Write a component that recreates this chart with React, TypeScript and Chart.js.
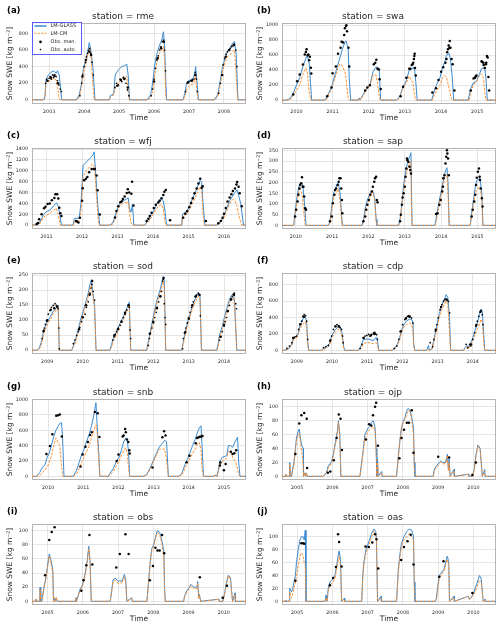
import React, { useEffect, useRef } from "react";
import { Chart, registerables } from "chart.js";
Chart.register(...registerables);

type P = [number, number][];

const FONT = '"DejaVu Sans", sans-serif';
const BLUE = "#3a8ad0";
const ORANGE = "#ff8c2a";
const TXT = "#262626";

// ---------------- (a) rme ----------------
const rmeYears = [2003, 2004, 2005, 2006, 2007, 2008];
const rmeTicks = [0, 200, 400, 600, 800];
const rmeGlass: P = [
  [2002.5, 0], [2002.85, 0], [2002.88, 40], [2002.91, 240], [2002.98, 300], [2003.05, 330], [2003.13, 350], [2003.2, 320], [2003.24, 350], [2003.29, 300], [2003.33, 120], [2003.36, 0],
  [2003.78, 0], [2003.86, 60], [2003.93, 200], [2003.98, 380], [2004.03, 450], [2004.1, 580], [2004.15, 690], [2004.19, 600], [2004.25, 400], [2004.31, 0],
  [2004.72, 0], [2004.75, 50], [2004.8, 60], [2004.85, 80], [2004.89, 300], [2004.98, 360], [2005.08, 400], [2005.15, 410], [2005.22, 430], [2005.26, 300], [2005.3, 0],
  [2005.8, 0], [2005.9, 60], [2005.96, 200], [2006.02, 420], [2006.08, 550], [2006.15, 650], [2006.22, 720], [2006.27, 820], [2006.3, 650], [2006.33, 300], [2006.36, 0],
  [2006.83, 0], [2006.88, 80], [2006.93, 200], [2006.98, 230], [2007.05, 240], [2007.12, 260], [2007.17, 330], [2007.19, 400], [2007.22, 250], [2007.27, 0],
  [2007.72, 0], [2007.82, 60], [2007.9, 250], [2007.96, 400], [2008.03, 500], [2008.1, 580], [2008.17, 620], [2008.24, 680], [2008.3, 700], [2008.35, 550], [2008.4, 0], [2008.65, 0],
];
const rmeCm: P = [
  [2002.5, 0], [2002.85, 0], [2002.88, 20], [2002.91, 200], [2002.98, 220], [2003.05, 240], [2003.13, 260], [2003.2, 240], [2003.24, 150], [2003.29, 20], [2003.31, 0],
  [2003.78, 0], [2003.86, 30], [2003.93, 150], [2003.98, 330], [2004.03, 400], [2004.1, 530], [2004.15, 620], [2004.19, 560], [2004.25, 200], [2004.29, 0],
  [2004.72, 0], [2004.75, 30], [2004.8, 50], [2004.85, 60], [2004.89, 150], [2004.98, 200], [2005.08, 250], [2005.15, 270], [2005.22, 280], [2005.26, 100], [2005.29, 0],
  [2005.8, 0], [2005.9, 20], [2005.96, 100], [2006.02, 300], [2006.08, 450], [2006.15, 560], [2006.22, 600], [2006.27, 640], [2006.3, 500], [2006.33, 100], [2006.35, 0],
  [2006.83, 0], [2006.88, 40], [2006.93, 120], [2006.98, 160], [2007.05, 180], [2007.12, 190], [2007.17, 250], [2007.19, 310], [2007.22, 120], [2007.26, 0],
  [2007.72, 0], [2007.82, 30], [2007.9, 180], [2007.96, 350], [2008.03, 450], [2008.1, 520], [2008.17, 540], [2008.24, 580], [2008.3, 600], [2008.35, 300], [2008.39, 0], [2008.65, 0],
];
const rmeAuto: P = [
  [2002.9, 200], [2002.93, 250], [2002.96, 230], [2003.0, 260], [2003.03, 280], [2003.06, 250], [2003.1, 300], [2003.13, 270], [2003.16, 300], [2003.2, 280], [2003.24, 230], [2003.28, 180], [2003.32, 130], [2003.35, 100],
  [2003.88, 50], [2003.93, 200], [2003.96, 300], [2004.0, 400], [2004.04, 450], [2004.07, 520], [2004.1, 560], [2004.13, 600], [2004.16, 620], [2004.19, 560], [2004.22, 450], [2004.26, 300],
  [2004.88, 150], [2004.93, 200], [2004.98, 180], [2005.03, 250], [2005.08, 220], [2005.12, 270], [2005.16, 260], [2005.2, 200], [2005.24, 120], [2005.28, 50],
  [2005.92, 50], [2005.96, 130], [2006.0, 250], [2006.04, 380], [2006.08, 480], [2006.12, 530], [2006.16, 600], [2006.2, 640], [2006.24, 700], [2006.27, 720], [2006.3, 600], [2006.33, 350],
  [2006.9, 100], [2006.95, 200], [2007.0, 220], [2007.05, 230], [2007.1, 240], [2007.14, 250], [2007.18, 330], [2007.21, 250], [2007.24, 100],
  [2007.85, 80], [2007.9, 200], [2007.94, 300], [2007.98, 420], [2008.02, 500], [2008.06, 550], [2008.1, 580], [2008.14, 600], [2008.18, 620], [2008.22, 640], [2008.26, 650], [2008.3, 670], [2008.34, 600], [2008.37, 400],
];
const rmeMan: P = [
  [2002.95, 230], [2003.05, 270], [2003.15, 290], [2003.25, 200], [2003.95, 280], [2004.05, 480], [2004.15, 580], [2004.2, 540],
  [2004.95, 170], [2005.05, 240], [2005.15, 250], [2005.25, 150], [2006.0, 220], [2006.1, 500], [2006.2, 620], [2006.28, 700],
  [2006.97, 210], [2007.08, 230], [2007.18, 300], [2007.95, 300], [2008.05, 520], [2008.15, 600], [2008.28, 660],
];

// ---------------- (b) swa ----------------
const swaYears = [2010, 2011, 2012, 2013, 2014, 2015];
const swaTicks = [0, 200, 400, 600, 800, 1000];
const swaGlass: P = [
  [2009.6, 0], [2009.72, 0], [2009.82, 20], [2009.91, 90], [2010.0, 200], [2010.09, 300], [2010.18, 450], [2010.26, 560], [2010.3, 590], [2010.35, 500], [2010.4, 150], [2010.42, 0],
  [2010.78, 0], [2010.85, 50], [2010.97, 170], [2011.09, 380], [2011.15, 480], [2011.2, 560], [2011.27, 680], [2011.34, 770], [2011.37, 790], [2011.4, 740], [2011.43, 700], [2011.46, 300], [2011.5, 0],
  [2011.71, 0], [2011.74, 30], [2011.76, 0], [2011.85, 80], [2011.94, 150], [2012.03, 200], [2012.12, 380], [2012.2, 440], [2012.25, 440], [2012.29, 380], [2012.33, 0],
  [2012.77, 0], [2012.86, 50], [2012.95, 180], [2013.04, 260], [2013.12, 400], [2013.18, 410], [2013.23, 440], [2013.27, 400], [2013.3, 250], [2013.34, 0],
  [2013.74, 0], [2013.8, 100], [2013.87, 200], [2013.97, 300], [2014.04, 430], [2014.11, 520], [2014.15, 600], [2014.23, 620], [2014.27, 500], [2014.31, 300], [2014.35, 0],
  [2014.75, 0], [2014.82, 150], [2014.89, 230], [2014.98, 250], [2015.06, 340], [2015.12, 420], [2015.17, 430], [2015.21, 420], [2015.24, 300], [2015.28, 0], [2015.55, 0],
];
const swaCm: P = [
  [2009.6, 0], [2009.82, 0], [2009.91, 60], [2010.0, 130], [2010.09, 200], [2010.18, 350], [2010.26, 430], [2010.3, 380], [2010.35, 120], [2010.4, 0],
  [2010.8, 0], [2010.85, 20], [2010.97, 150], [2011.09, 330], [2011.15, 440], [2011.2, 480], [2011.27, 460], [2011.34, 380], [2011.37, 300], [2011.4, 150], [2011.43, 30], [2011.46, 0],
  [2011.71, 0], [2011.74, 20], [2011.76, 0], [2011.85, 60], [2011.94, 150], [2012.03, 190], [2012.12, 330], [2012.2, 340], [2012.25, 200], [2012.29, 50], [2012.32, 0],
  [2012.8, 0], [2012.86, 40], [2012.95, 160], [2013.04, 230], [2013.12, 320], [2013.18, 260], [2013.23, 230], [2013.27, 50], [2013.3, 0],
  [2013.76, 0], [2013.8, 50], [2013.87, 120], [2013.97, 200], [2014.04, 300], [2014.11, 330], [2014.15, 300], [2014.23, 150], [2014.27, 50], [2014.31, 0],
  [2014.78, 0], [2014.82, 100], [2014.89, 200], [2014.98, 260], [2015.06, 320], [2015.12, 350], [2015.17, 300], [2015.21, 100], [2015.24, 0], [2015.55, 0],
];
const swaAuto: P = [];
const swaMan: P = [
  [2009.91, 75], [2010.02, 253], [2010.09, 342], [2010.18, 475], [2010.23, 608], [2010.26, 644], [2010.28, 680], [2010.31, 600], [2010.33, 608], [2010.35, 533], [2010.37, 578], [2010.4, 431], [2010.41, 355],
  [2010.85, 50], [2010.97, 170], [2011.0, 360], [2011.09, 450], [2011.15, 620], [2011.22, 700], [2011.25, 780], [2011.29, 770], [2011.32, 870], [2011.34, 960], [2011.37, 990], [2011.38, 1000], [2011.4, 920], [2011.44, 700], [2011.46, 450],
  [2011.9, 130], [2011.96, 170], [2012.03, 200], [2012.14, 480], [2012.18, 500], [2012.21, 540], [2012.24, 420], [2012.28, 410], [2012.3, 280], [2012.33, 150],
  [2012.88, 50], [2012.95, 180], [2013.04, 300], [2013.12, 420], [2013.15, 420], [2013.19, 470], [2013.21, 480], [2013.23, 500], [2013.25, 550], [2013.26, 590], [2013.27, 620], [2013.28, 430], [2013.3, 330],
  [2013.76, 100], [2013.86, 160], [2013.93, 270], [2014.0, 380], [2014.06, 440], [2014.12, 500], [2014.15, 550], [2014.17, 640], [2014.19, 680], [2014.21, 730], [2014.23, 700], [2014.24, 790], [2014.26, 700], [2014.29, 550], [2014.32, 480], [2014.37, 130],
  [2014.82, 130], [2014.9, 290], [2014.94, 300], [2014.96, 320], [2014.98, 330], [2015.12, 520], [2015.14, 510], [2015.17, 500], [2015.18, 470], [2015.21, 430], [2015.24, 480], [2015.25, 500], [2015.27, 590], [2015.29, 570], [2015.31, 310], [2015.33, 130],
];

// ---------------- (c) wfj ----------------
const wfjYears = [2011, 2012, 2013, 2014, 2015, 2016];
const wfjTicks = [0, 200, 400, 600, 800, 1000, 1200, 1400];
const wfjGlass: P = [
  [2010.58, 0], [2010.75, 10], [2010.8, 40], [2010.86, 120], [2010.92, 200], [2011.0, 250], [2011.1, 280], [2011.2, 360], [2011.28, 410], [2011.33, 350], [2011.37, 200], [2011.42, 0],
  [2011.75, 0], [2011.78, 120], [2011.86, 130], [2011.92, 130], [2011.97, 400], [2012.03, 1100], [2012.12, 1160], [2012.22, 1230], [2012.3, 1280], [2012.34, 1350], [2012.38, 1000], [2012.44, 400], [2012.5, 0],
  [2012.77, 0], [2012.85, 30], [2012.9, 100], [2012.97, 250], [2013.06, 400], [2013.15, 440], [2013.24, 480], [2013.3, 500], [2013.34, 300], [2013.38, 240], [2013.42, 380], [2013.46, 0],
  [2013.77, 0], [2013.87, 100], [2013.96, 200], [2014.05, 300], [2014.15, 450], [2014.24, 480], [2014.29, 450], [2014.34, 250], [2014.38, 0],
  [2014.81, 0], [2014.83, 200], [2014.94, 250], [2015.03, 350], [2015.12, 500], [2015.22, 650], [2015.32, 820], [2015.37, 800], [2015.41, 400], [2015.46, 0],
  [2015.79, 0], [2015.88, 50], [2015.98, 150], [2016.07, 300], [2016.16, 450], [2016.26, 550], [2016.31, 600], [2016.37, 650], [2016.41, 550], [2016.47, 400], [2016.55, 0], [2016.65, 0],
];
const wfjCm: P = [
  [2010.58, 0], [2010.75, 5], [2010.8, 20], [2010.86, 80], [2010.92, 150], [2011.0, 180], [2011.1, 220], [2011.2, 280], [2011.28, 310], [2011.33, 200], [2011.37, 40], [2011.4, 0],
  [2011.75, 0], [2011.78, 60], [2011.86, 60], [2011.92, 80], [2011.97, 250], [2012.03, 900], [2012.12, 1000], [2012.22, 1080], [2012.3, 1120], [2012.34, 1100], [2012.38, 800], [2012.44, 200], [2012.48, 0],
  [2012.77, 0], [2012.85, 10], [2012.9, 60], [2012.97, 200], [2013.06, 350], [2013.15, 400], [2013.24, 420], [2013.3, 430], [2013.34, 200], [2013.38, 50], [2013.42, 0],
  [2013.77, 0], [2013.87, 60], [2013.96, 150], [2014.05, 250], [2014.15, 350], [2014.24, 380], [2014.29, 300], [2014.34, 50], [2014.37, 0],
  [2014.81, 0], [2014.83, 150], [2014.94, 200], [2015.03, 300], [2015.12, 420], [2015.22, 550], [2015.32, 700], [2015.37, 650], [2015.41, 200], [2015.45, 0],
  [2015.79, 0], [2015.88, 30], [2015.98, 120], [2016.07, 250], [2016.16, 400], [2016.26, 480], [2016.31, 450], [2016.37, 350], [2016.41, 200], [2016.45, 100], [2016.5, 0], [2016.65, 0],
];
const wfjAuto: P = [];
const wfjMan: P = [
  [2010.72, 20], [2010.76, 40], [2010.79, 110], [2010.86, 200], [2010.93, 310], [2010.97, 340], [2011.03, 390], [2011.09, 400], [2011.15, 460], [2011.22, 500], [2011.25, 570], [2011.3, 570], [2011.33, 490], [2011.36, 320], [2011.39, 220], [2011.42, 170],
  [2011.83, 78], [2011.86, 66], [2011.9, 48], [2011.94, 137], [2012.0, 450], [2012.02, 680], [2012.06, 825], [2012.11, 855], [2012.15, 885], [2012.2, 975], [2012.27, 1035], [2012.33, 1035], [2012.36, 1035], [2012.41, 915], [2012.44, 645], [2012.5, 197],
  [2012.93, 140], [2012.97, 260], [2013.02, 350], [2013.08, 420], [2013.12, 440], [2013.15, 480], [2013.2, 530], [2013.26, 590], [2013.29, 660], [2013.33, 600], [2013.39, 580], [2013.41, 800], [2013.45, 360],
  [2013.82, 78], [2013.87, 120], [2013.91, 167], [2013.96, 227], [2014.02, 317], [2014.08, 377], [2014.15, 419], [2014.19, 449], [2014.24, 496], [2014.29, 556], [2014.32, 616], [2014.36, 646], [2014.48, 90],
  [2014.85, 138], [2014.91, 209], [2014.96, 257], [2015.02, 329], [2015.07, 407], [2015.12, 496], [2015.17, 586], [2015.23, 676], [2015.28, 765], [2015.33, 855], [2015.37, 688], [2015.4, 718], [2015.49, 78],
  [2015.84, 36], [2015.91, 78], [2015.96, 138], [2016.0, 209], [2016.05, 317], [2016.1, 437], [2016.16, 508], [2016.21, 568], [2016.25, 628], [2016.31, 676], [2016.35, 748], [2016.37, 795], [2016.41, 706], [2016.44, 586], [2016.5, 347],
];

// ---------------- (d) sap ----------------
const sapYears = [2010, 2011, 2012, 2013, 2014, 2015];
const sapTicks = [0, 50, 100, 150, 200, 250, 300, 350];
const sapGlass: P = [
  [2009.6, 0], [2009.94, 0], [2009.98, 60], [2010.03, 130], [2010.07, 170], [2010.12, 200], [2010.19, 190], [2010.24, 100], [2010.28, 0],
  [2010.9, 0], [2010.94, 20], [2011.0, 100], [2011.04, 150], [2011.11, 180], [2011.17, 200], [2011.22, 150], [2011.26, 50], [2011.28, 0],
  [2011.82, 0], [2011.86, 20], [2011.91, 80], [2011.97, 120], [2012.05, 150], [2012.11, 165], [2012.17, 130], [2012.21, 30], [2012.23, 0],
  [2012.83, 0], [2012.87, 30], [2012.92, 100], [2012.96, 180], [2013.02, 250], [2013.07, 290], [2013.13, 320], [2013.17, 340], [2013.18, 200], [2013.2, 0],
  [2013.83, 0], [2013.88, 50], [2013.93, 100], [2013.99, 150], [2014.05, 200], [2014.11, 250], [2014.16, 270], [2014.19, 200], [2014.22, 0],
  [2014.8, 0], [2014.84, 60], [2014.89, 120], [2014.94, 180], [2014.98, 210], [2015.07, 220], [2015.12, 150], [2015.15, 0], [2015.55, 0],
];
const sapCm: P = [
  [2009.6, 0], [2009.94, 0], [2009.98, 40], [2010.03, 110], [2010.1, 170], [2010.17, 150], [2010.21, 80], [2010.26, 0],
  [2010.9, 0], [2010.94, 10], [2011.0, 80], [2011.04, 130], [2011.11, 150], [2011.17, 170], [2011.22, 110], [2011.26, 20], [2011.28, 0],
  [2011.82, 0], [2011.86, 10], [2011.91, 60], [2011.97, 100], [2012.05, 140], [2012.11, 160], [2012.17, 120], [2012.21, 20], [2012.23, 0],
  [2012.83, 0], [2012.87, 20], [2012.92, 90], [2012.96, 160], [2013.02, 220], [2013.07, 260], [2013.13, 290], [2013.17, 300], [2013.18, 100], [2013.2, 0],
  [2013.83, 0], [2013.88, 30], [2013.93, 80], [2013.99, 130], [2014.05, 180], [2014.11, 230], [2014.16, 240], [2014.19, 150], [2014.22, 0],
  [2014.8, 0], [2014.84, 40], [2014.89, 100], [2014.94, 150], [2014.98, 170], [2015.07, 180], [2015.12, 120], [2015.15, 0], [2015.55, 0],
];
const sapAuto: P = [];
const sapMan: P = [
  [2009.98, 42], [2010.01, 73], [2010.05, 112], [2010.07, 143], [2010.1, 173], [2010.12, 189], [2010.15, 197], [2010.17, 225], [2010.19, 181], [2010.21, 181], [2010.23, 135], [2010.26, 80], [2010.28, 73],
  [2010.94, 19], [2010.99, 42], [2011.02, 104], [2011.06, 143], [2011.08, 166], [2011.11, 173], [2011.15, 189], [2011.18, 204], [2011.2, 220], [2011.23, 220], [2011.25, 173], [2011.27, 119], [2011.28, 57],
  [2011.86, 19], [2011.91, 42], [2011.94, 73], [2011.97, 96], [2012.01, 119], [2012.05, 143], [2012.09, 158], [2012.12, 181], [2012.16, 204], [2012.18, 220], [2012.21, 228], [2012.23, 119], [2012.25, 108],
  [2012.87, 19], [2012.89, 50], [2012.92, 96], [2012.94, 130], [2012.97, 150], [2013.0, 181], [2013.02, 228], [2013.04, 266], [2013.06, 313], [2013.07, 305], [2013.1, 297], [2013.13, 274], [2013.15, 259], [2013.17, 243],
  [2013.86, 53], [2013.9, 57], [2013.95, 96], [2013.99, 119], [2014.03, 158], [2014.05, 181], [2014.06, 220], [2014.09, 235], [2014.12, 290], [2014.14, 321], [2014.16, 352], [2014.17, 336], [2014.19, 313], [2014.21, 235],
  [2014.84, 42], [2014.87, 73], [2014.91, 112], [2014.94, 143], [2014.96, 189], [2014.98, 223], [2015.01, 251], [2015.04, 266], [2015.06, 228], [2015.07, 212], [2015.09, 173], [2015.12, 127], [2015.14, 88],
];

// ---------------- (e) sod ----------------
const sodYears = [2009, 2010, 2011, 2012, 2013, 2014];
const sodTicks = [0, 50, 100, 150, 200, 250];
const sodGlass: P = [
  [2008.57, 0], [2008.7, 0], [2008.77, 5], [2008.84, 30], [2008.89, 60], [2008.98, 90], [2009.08, 110], [2009.17, 130], [2009.26, 140], [2009.31, 150], [2009.34, 0],
  [2009.69, 0], [2009.74, 15], [2009.81, 40], [2009.88, 70], [2009.94, 100], [2010.02, 130], [2010.09, 160], [2010.16, 190], [2010.21, 220], [2010.25, 235], [2010.28, 200], [2010.34, 150], [2010.38, 0],
  [2010.77, 0], [2010.82, 20], [2010.87, 40], [2010.96, 60], [2011.06, 90], [2011.15, 110], [2011.25, 140], [2011.29, 150], [2011.32, 160], [2011.36, 0],
  [2011.81, 0], [2011.86, 30], [2011.91, 60], [2011.98, 100], [2012.05, 140], [2012.11, 170], [2012.19, 200], [2012.25, 230], [2012.28, 245], [2012.31, 230], [2012.35, 0],
  [2012.8, 0], [2012.85, 30], [2012.9, 60], [2012.96, 90], [2013.04, 120], [2013.11, 150], [2013.18, 170], [2013.25, 185], [2013.29, 190], [2013.32, 180], [2013.36, 0],
  [2013.79, 0], [2013.83, 20], [2013.87, 50], [2013.95, 80], [2014.01, 110], [2014.08, 140], [2014.15, 170], [2014.23, 185], [2014.27, 190], [2014.3, 150], [2014.36, 0], [2014.65, 0],
];
const sodCm: P = [
  [2008.57, 0], [2008.7, 0], [2008.77, 2], [2008.84, 20], [2008.89, 50], [2008.98, 80], [2009.08, 100], [2009.17, 120], [2009.26, 135], [2009.31, 142], [2009.34, 0],
  [2009.69, 0], [2009.74, 10], [2009.81, 30], [2009.88, 60], [2009.94, 90], [2010.02, 120], [2010.09, 150], [2010.16, 180], [2010.21, 205], [2010.25, 220], [2010.28, 190], [2010.34, 140], [2010.38, 0],
  [2010.77, 0], [2010.82, 10], [2010.87, 30], [2010.96, 50], [2011.06, 80], [2011.15, 100], [2011.25, 130], [2011.29, 140], [2011.32, 150], [2011.36, 0],
  [2011.81, 0], [2011.86, 20], [2011.91, 50], [2011.98, 90], [2012.05, 130], [2012.11, 160], [2012.19, 190], [2012.25, 215], [2012.28, 230], [2012.31, 210], [2012.35, 0],
  [2012.8, 0], [2012.85, 20], [2012.9, 50], [2012.96, 80], [2013.04, 110], [2013.11, 140], [2013.18, 160], [2013.25, 175], [2013.29, 180], [2013.32, 170], [2013.36, 0],
  [2013.79, 0], [2013.83, 10], [2013.87, 40], [2013.95, 70], [2014.01, 100], [2014.08, 130], [2014.15, 160], [2014.23, 178], [2014.27, 183], [2014.3, 140], [2014.36, 0], [2014.65, 0],
];
const sodAuto: P = [
  [2008.86, 39], [2008.89, 62], [2008.92, 74], [2008.95, 86], [2008.98, 97], [2009.03, 120], [2009.08, 132], [2009.12, 143], [2009.17, 149], [2009.22, 155], [2009.26, 149], [2009.31, 138], [2009.33, 74], [2009.34, 5],
  [2009.74, 22], [2009.78, 34], [2009.83, 49], [2009.88, 62], [2009.92, 76], [2009.97, 95], [2010.02, 109], [2010.07, 120], [2010.11, 143], [2010.16, 161], [2010.21, 190], [2010.24, 207], [2010.26, 219], [2010.3, 196], [2010.34, 167],
  [2010.85, 34], [2010.89, 45], [2010.92, 53], [2010.96, 62], [2011.01, 74], [2011.06, 83], [2011.1, 97], [2011.15, 109], [2011.2, 120], [2011.25, 134], [2011.29, 149], [2011.32, 143], [2011.34, 68], [2011.36, 39],
  [2011.86, 16], [2011.89, 39], [2011.92, 57], [2011.96, 74], [2012.0, 91], [2012.04, 109], [2012.08, 126], [2012.11, 143], [2012.15, 161], [2012.19, 178], [2012.23, 196], [2012.26, 230], [2012.28, 236], [2012.31, 155], [2012.33, 109], [2012.35, 86],
  [2012.83, 5], [2012.85, 39], [2012.88, 57], [2012.92, 74], [2012.96, 91], [2013.0, 109], [2013.04, 126], [2013.08, 143], [2013.13, 161], [2013.18, 178], [2013.22, 184], [2013.27, 190], [2013.31, 184], [2013.33, 115],
  [2013.87, 34], [2013.91, 45], [2013.95, 62], [2014.0, 80], [2014.03, 95], [2014.07, 109], [2014.11, 132], [2014.15, 149], [2014.19, 167], [2014.23, 178], [2014.26, 184], [2014.29, 190], [2014.33, 155], [2014.35, 138],
];
const sodMan: P = [
  [2008.9, 65], [2009.0, 100], [2009.1, 135], [2009.2, 140], [2009.28, 145], [2009.9, 70], [2010.0, 110], [2010.1, 150], [2010.2, 185], [2010.27, 230],
  [2010.9, 50], [2011.0, 70], [2011.1, 95], [2011.2, 125], [2011.3, 150], [2011.9, 55], [2012.0, 95], [2012.1, 140], [2012.2, 180], [2012.29, 240],
  [2012.9, 60], [2013.0, 105], [2013.1, 150], [2013.2, 180], [2013.3, 185], [2013.9, 45], [2014.0, 85], [2014.1, 130], [2014.2, 170], [2014.28, 185],
];

// ---------------- (f) cdp ----------------
const cdpYears = [2009, 2010, 2011, 2012, 2013, 2014];
const cdpTicks = [0, 200, 400, 600, 800];
const cdpGlass: P = [
  [2008.58, 0], [2008.62, 0], [2008.72, 10], [2008.79, 30], [2008.86, 80], [2008.91, 150], [2008.98, 170], [2009.05, 220], [2009.09, 300], [2009.14, 340], [2009.19, 400], [2009.24, 410], [2009.28, 350], [2009.31, 100], [2009.34, 0],
  [2009.71, 0], [2009.76, 20], [2009.85, 50], [2009.93, 80], [2009.97, 150], [2010.02, 200], [2010.09, 250], [2010.16, 280], [2010.21, 290], [2010.25, 270], [2010.29, 200], [2010.33, 50], [2010.36, 0],
  [2010.75, 0], [2010.8, 30], [2010.85, 80], [2010.89, 130], [2010.99, 140], [2011.08, 130], [2011.18, 120], [2011.23, 150], [2011.27, 160], [2011.3, 100], [2011.33, 0],
  [2011.7, 0], [2011.77, 20], [2011.84, 60], [2011.92, 150], [2011.98, 250], [2012.05, 320], [2012.12, 360], [2012.2, 380], [2012.26, 380], [2012.3, 340], [2012.32, 100], [2012.35, 0],
  [2012.69, 0], [2012.74, 60], [2012.77, 0], [2012.84, 20], [2012.88, 100], [2012.93, 200], [2012.98, 300], [2013.05, 450], [2013.12, 550], [2013.19, 620], [2013.24, 680], [2013.29, 650], [2013.34, 400], [2013.37, 0],
  [2013.73, 0], [2013.78, 30], [2013.83, 60], [2013.88, 40], [2013.93, 80], [2014.0, 150], [2014.07, 250], [2014.14, 350], [2014.2, 450], [2014.23, 500], [2014.27, 480], [2014.31, 200], [2014.34, 0], [2014.67, 0],
];
const cdpCm: P = [
  [2008.58, 0], [2008.62, 0], [2008.72, 5], [2008.79, 20], [2008.86, 60], [2008.91, 130], [2008.98, 150], [2009.05, 200], [2009.09, 260], [2009.14, 300], [2009.19, 330], [2009.24, 350], [2009.28, 280], [2009.31, 50], [2009.34, 0],
  [2009.71, 0], [2009.76, 10], [2009.85, 30], [2009.93, 60], [2009.97, 120], [2010.02, 170], [2010.09, 220], [2010.16, 250], [2010.21, 260], [2010.25, 240], [2010.29, 150], [2010.33, 20], [2010.36, 0],
  [2010.75, 0], [2010.8, 10], [2010.85, 40], [2010.89, 80], [2010.99, 100], [2011.08, 90], [2011.18, 80], [2011.23, 90], [2011.27, 90], [2011.3, 40], [2011.33, 0],
  [2011.7, 0], [2011.77, 10], [2011.84, 40], [2011.92, 120], [2011.98, 220], [2012.05, 290], [2012.12, 320], [2012.2, 330], [2012.26, 320], [2012.3, 250], [2012.32, 40], [2012.35, 0],
  [2012.69, 0], [2012.74, 20], [2012.77, 0], [2012.84, 10], [2012.88, 80], [2012.93, 170], [2012.98, 260], [2013.05, 400], [2013.12, 500], [2013.19, 560], [2013.24, 600], [2013.29, 560], [2013.34, 200], [2013.37, 0],
  [2013.73, 0], [2013.78, 10], [2013.83, 30], [2013.88, 20], [2013.93, 60], [2014.0, 120], [2014.07, 200], [2014.14, 270], [2014.2, 330], [2014.23, 380], [2014.27, 350], [2014.31, 100], [2014.34, 0], [2014.67, 0],
];
const cdpAuto: P = [
  [2008.72, 24], [2008.79, 53], [2008.86, 93], [2008.91, 154], [2008.95, 166], [2009.0, 174], [2009.05, 255], [2009.09, 315], [2009.14, 356], [2009.17, 416], [2009.21, 436], [2009.25, 424], [2009.28, 356], [2009.31, 133],
  [2009.76, 32], [2009.83, 44], [2009.9, 61], [2009.95, 113], [2009.99, 174], [2010.04, 255], [2010.09, 295], [2010.14, 315], [2010.18, 303], [2010.23, 275], [2010.27, 255], [2010.3, 174], [2010.32, 93],
  [2010.8, 24], [2010.85, 73], [2010.89, 154], [2010.94, 174], [2010.99, 182], [2011.04, 194], [2011.08, 174], [2011.13, 194], [2011.18, 214], [2011.22, 220], [2011.24, 200], [2011.27, 190], [2011.29, 133],
  [2011.77, 24], [2011.84, 53], [2011.9, 133], [2011.95, 234], [2012.01, 315], [2012.07, 376], [2012.11, 396], [2012.14, 416], [2012.18, 424], [2012.22, 416], [2012.26, 396], [2012.3, 335],
  [2012.79, 93], [2012.86, 44], [2012.9, 133], [2012.94, 234], [2012.98, 315], [2013.02, 396], [2013.07, 497], [2013.12, 558], [2013.17, 598], [2013.2, 618], [2013.24, 626], [2013.28, 610], [2013.31, 598], [2013.34, 457],
  [2013.81, 73], [2013.86, 32], [2013.91, 73], [2013.94, 53], [2014.0, 133], [2014.05, 214], [2014.09, 295], [2014.13, 356], [2014.17, 416], [2014.21, 465], [2014.24, 489], [2014.27, 436], [2014.29, 315],
];
const cdpMan: P = [
  [2008.9, 150], [2009.1, 320], [2009.2, 410], [2009.95, 120], [2010.1, 290], [2010.2, 290], [2010.9, 150], [2011.1, 180], [2011.2, 200],
  [2011.95, 230], [2012.1, 390], [2012.2, 410], [2012.95, 250], [2013.1, 530], [2013.25, 620], [2013.95, 70], [2014.1, 310], [2014.22, 470],
];

// ---------------- (g) snb ----------------
const snbYears = [2010, 2011, 2012, 2013, 2014, 2015];
const snbTicks = [0, 200, 400, 600, 800, 1000];
const snbGlass: P = [
  [2009.54, 0], [2009.67, 0], [2009.76, 50], [2009.84, 120], [2009.91, 150], [2009.97, 250], [2010.03, 300], [2010.09, 400], [2010.16, 520], [2010.22, 600], [2010.28, 650], [2010.33, 690], [2010.38, 700], [2010.41, 500], [2010.45, 0],
  [2010.71, 0], [2010.81, 80], [2010.88, 180], [2010.95, 280], [2011.02, 350], [2011.09, 450], [2011.17, 550], [2011.23, 650], [2011.3, 800], [2011.36, 960], [2011.39, 700], [2011.44, 300], [2011.47, 0],
  [2011.71, 0], [2011.76, 40], [2011.85, 100], [2011.95, 200], [2012.02, 250], [2012.09, 350], [2012.15, 450], [2012.21, 500], [2012.25, 480], [2012.29, 300], [2012.32, 0],
  [2012.7, 0], [2012.8, 20], [2012.89, 100], [2012.99, 200], [2013.08, 300], [2013.16, 380], [2013.23, 420], [2013.32, 470], [2013.37, 450], [2013.42, 0],
  [2013.7, 0], [2013.8, 30], [2013.89, 150], [2013.96, 220], [2014.03, 300], [2014.11, 400], [2014.18, 480], [2014.24, 560], [2014.3, 630], [2014.35, 660], [2014.38, 400], [2014.42, 0],
  [2014.7, 0], [2014.78, 20], [2014.81, 0], [2014.89, 200], [2014.96, 250], [2015.03, 260], [2015.08, 270], [2015.13, 400], [2015.19, 400], [2015.25, 380], [2015.32, 450], [2015.39, 510], [2015.42, 200], [2015.46, 0], [2015.63, 0],
];
const snbCm: P = [
  [2009.54, 0], [2009.67, 0], [2009.76, 10], [2009.84, 50], [2009.91, 80], [2009.97, 120], [2010.03, 180], [2010.09, 260], [2010.16, 400], [2010.22, 500], [2010.28, 440], [2010.33, 400], [2010.38, 150], [2010.41, 0],
  [2010.71, 0], [2010.81, 30], [2010.88, 100], [2010.95, 180], [2011.02, 250], [2011.09, 320], [2011.17, 400], [2011.23, 500], [2011.3, 600], [2011.36, 670], [2011.39, 600], [2011.44, 200], [2011.47, 0],
  [2011.71, 0], [2011.76, 20], [2011.85, 60], [2011.95, 150], [2012.02, 200], [2012.09, 280], [2012.15, 330], [2012.21, 370], [2012.25, 300], [2012.29, 100], [2012.32, 0],
  [2012.7, 0], [2012.8, 15], [2012.89, 80], [2012.99, 180], [2013.08, 280], [2013.16, 350], [2013.23, 360], [2013.32, 350], [2013.37, 200], [2013.42, 0],
  [2013.7, 0], [2013.8, 15], [2013.89, 100], [2013.96, 170], [2014.03, 230], [2014.11, 300], [2014.18, 350], [2014.24, 420], [2014.3, 440], [2014.35, 350], [2014.38, 100], [2014.42, 0],
  [2014.7, 0], [2014.78, 10], [2014.81, 0], [2014.89, 150], [2014.96, 200], [2015.03, 220], [2015.08, 240], [2015.13, 330], [2015.19, 320], [2015.25, 250], [2015.32, 200], [2015.39, 100], [2015.42, 20], [2015.46, 0], [2015.63, 0],
];
const snbAuto: P = [];
const snbMan: P = [
  [2009.95, 290], [2010.05, 395], [2010.12, 550], [2010.23, 790], [2010.28, 795], [2010.33, 805], [2010.39, 520],
  [2010.92, 128], [2010.98, 285], [2011.06, 387], [2011.13, 447], [2011.19, 540], [2011.24, 574], [2011.33, 838], [2011.41, 821], [2011.46, 511],
  [2011.95, 200], [2012.0, 285], [2012.12, 519], [2012.15, 532], [2012.19, 617], [2012.21, 574], [2012.24, 481], [2012.28, 447], [2012.31, 340], [2012.32, 298],
  [2012.97, 115], [2013.25, 510], [2013.3, 587], [2013.34, 532],
  [2013.94, 183], [2014.02, 268], [2014.2, 430], [2014.24, 500], [2014.28, 510], [2014.32, 515], [2014.36, 520], [2014.39, 525],
  [2014.89, 140], [2014.9, 180], [2015.0, 80], [2015.05, 160], [2015.2, 320], [2015.25, 290], [2015.3, 300], [2015.35, 340],
];

// ---------------- (h) ojp ----------------
const ojpYears = [2005, 2006, 2007, 2008, 2009, 2010];
const smallTicks = [0, 20, 40, 60, 80, 100];
const ojpGlass: P = [
  [2004.57, 0], [2004.67, 0], [2004.68, 3], [2004.69, 0], [2004.78, 0], [2004.79, 20], [2004.81, 0],
  [2004.84, 0], [2004.87, 10], [2004.91, 20], [2004.95, 40], [2004.98, 55], [2005.03, 65], [2005.06, 68], [2005.09, 55], [2005.13, 45], [2005.17, 40], [2005.18, 0], [2005.22, 5], [2005.24, 0], [2005.26, 5], [2005.28, 0],
  [2005.74, 0], [2005.79, 3], [2005.83, 5], [2005.88, 15], [2005.93, 18], [2005.98, 22], [2006.02, 30], [2006.07, 45], [2006.14, 65], [2006.17, 80], [2006.21, 60], [2006.24, 0],
  [2006.78, 0], [2006.83, 20], [2006.88, 40], [2006.92, 60], [2006.97, 65], [2007.02, 70], [2007.06, 72], [2007.11, 78], [2007.16, 80], [2007.21, 70], [2007.24, 40], [2007.26, 0], [2007.28, 25], [2007.3, 0], [2007.4, 7], [2007.41, 0],
  [2007.82, 0], [2007.87, 30], [2007.92, 55], [2007.96, 70], [2008.01, 80], [2008.06, 85], [2008.11, 95], [2008.15, 98], [2008.2, 95], [2008.25, 85], [2008.3, 70], [2008.32, 20], [2008.34, 0],
  [2008.86, 0], [2008.89, 10], [2008.95, 15], [2009.03, 20], [2009.07, 22], [2009.13, 20], [2009.2, 20], [2009.24, 25], [2009.26, 32], [2009.29, 10], [2009.31, 25], [2009.34, 0], [2009.45, 10], [2009.46, 0],
  [2009.86, 3], [2009.87, 0], [2009.97, 0], [2010.02, 10], [2010.07, 30], [2010.13, 45], [2010.19, 40], [2010.23, 15], [2010.25, 0], [2010.32, 10], [2010.33, 0], [2010.65, 0],
];
const ojpCm: P = [
  [2004.57, 0], [2004.67, 0], [2004.68, 3], [2004.69, 0], [2004.78, 0], [2004.79, 18], [2004.81, 0],
  [2004.84, 0], [2004.87, 8], [2004.91, 18], [2004.95, 38], [2004.98, 50], [2005.03, 60], [2005.06, 62], [2005.09, 50], [2005.13, 35], [2005.17, 20], [2005.18, 0], [2005.22, 5], [2005.24, 0], [2005.26, 5], [2005.28, 0],
  [2005.74, 0], [2005.79, 2], [2005.83, 4], [2005.88, 12], [2005.93, 15], [2005.98, 20], [2006.02, 28], [2006.07, 42], [2006.14, 60], [2006.17, 78], [2006.21, 55], [2006.24, 0],
  [2006.78, 0], [2006.83, 18], [2006.88, 38], [2006.92, 55], [2006.97, 60], [2007.02, 65], [2007.06, 68], [2007.11, 70], [2007.16, 72], [2007.21, 65], [2007.24, 35], [2007.26, 0], [2007.28, 20], [2007.3, 0], [2007.4, 5], [2007.41, 0],
  [2007.82, 0], [2007.87, 28], [2007.92, 52], [2007.96, 68], [2008.01, 78], [2008.06, 82], [2008.11, 90], [2008.15, 95], [2008.2, 93], [2008.25, 80], [2008.3, 60], [2008.32, 15], [2008.34, 0],
  [2008.86, 0], [2008.89, 8], [2008.95, 12], [2009.03, 18], [2009.07, 20], [2009.13, 18], [2009.2, 18], [2009.24, 22], [2009.26, 30], [2009.29, 8], [2009.31, 20], [2009.34, 0], [2009.45, 8], [2009.46, 0],
  [2009.86, 3], [2009.87, 0], [2009.97, 0], [2010.02, 8], [2010.07, 28], [2010.13, 44], [2010.19, 38], [2010.23, 12], [2010.25, 0], [2010.32, 8], [2010.33, 0], [2010.65, 0],
];
const ojpAuto: P = [];
const ojpMan: P = [
  [2004.95, 32], [2005.06, 76], [2005.12, 88], [2005.2, 91], [2005.27, 83], [2005.28, 12],
  [2005.87, 5], [2005.94, 7], [2006.04, 23], [2006.12, 55], [2006.18, 89], [2006.23, 83], [2006.27, 38],
  [2006.95, 53], [2007.04, 75], [2007.1, 73], [2007.15, 88], [2007.21, 100], [2007.24, 106], [2007.29, 44],
  [2007.9, 26], [2007.96, 55], [2008.03, 67], [2008.11, 77], [2008.17, 77], [2008.25, 95], [2008.3, 34],
  [2009.0, 28], [2009.31, 27], [2009.97, 2], [2010.07, 20],
];

// ---------------- (i) obs ----------------
const obsYears = [2005, 2006, 2007, 2008, 2009, 2010];
const obsGlass: P = [
  [2004.56, 0], [2004.67, 0], [2004.68, 3], [2004.69, 0], [2004.78, 0], [2004.79, 20], [2004.81, 0],
  [2004.84, 0], [2004.9, 20], [2004.96, 35], [2005.0, 50], [2005.05, 67], [2005.09, 60], [2005.15, 45], [2005.17, 0], [2005.2, 5], [2005.22, 0], [2005.25, 5], [2005.27, 0],
  [2005.8, 0], [2005.81, 5], [2005.82, 0], [2005.88, 10], [2005.93, 18], [2005.98, 22], [2006.02, 28], [2006.07, 40], [2006.12, 55], [2006.17, 78], [2006.21, 55], [2006.24, 0],
  [2006.78, 0], [2006.86, 30], [2006.92, 33], [2006.97, 30], [2007.02, 28], [2007.06, 30], [2007.11, 28], [2007.18, 38], [2007.22, 30], [2007.25, 0], [2007.39, 5], [2007.4, 0],
  [2007.82, 0], [2007.87, 30], [2007.92, 60], [2007.96, 75], [2008.01, 80], [2008.06, 90], [2008.11, 100], [2008.18, 98], [2008.25, 85], [2008.3, 70], [2008.32, 20], [2008.34, 0],
  [2008.86, 0], [2008.89, 8], [2008.95, 15], [2009.03, 20], [2009.07, 24], [2009.15, 20], [2009.24, 20], [2009.26, 28], [2009.29, 5], [2009.31, 10], [2009.34, 0],
  [2009.86, 3], [2009.87, 0], [2009.97, 0], [2010.02, 10], [2010.07, 25], [2010.13, 37], [2010.19, 33], [2010.23, 10], [2010.25, 0], [2010.32, 12], [2010.33, 0], [2010.64, 0],
];
const obsCm: P = [
  [2004.56, 0], [2004.67, 0], [2004.68, 3], [2004.69, 0], [2004.78, 0], [2004.79, 18], [2004.81, 0],
  [2004.84, 0], [2004.9, 18], [2004.96, 33], [2005.0, 48], [2005.05, 64], [2005.09, 55], [2005.15, 40], [2005.17, 0], [2005.2, 5], [2005.22, 0], [2005.25, 5], [2005.27, 0],
  [2005.8, 0], [2005.81, 4], [2005.82, 0], [2005.88, 9], [2005.93, 16], [2005.98, 20], [2006.02, 26], [2006.07, 38], [2006.12, 52], [2006.17, 75], [2006.21, 50], [2006.24, 0],
  [2006.78, 0], [2006.86, 28], [2006.92, 30], [2006.97, 27], [2007.02, 25], [2007.06, 27], [2007.11, 25], [2007.18, 35], [2007.22, 25], [2007.25, 0], [2007.39, 4], [2007.4, 0],
  [2007.82, 0], [2007.87, 28], [2007.92, 56], [2007.96, 72], [2008.01, 78], [2008.06, 88], [2008.11, 97], [2008.18, 95], [2008.25, 80], [2008.3, 62], [2008.32, 15], [2008.34, 0],
  [2008.86, 0], [2008.89, 6], [2008.95, 13], [2009.03, 18], [2009.07, 22], [2009.15, 18], [2009.24, 18], [2009.26, 26], [2009.29, 4], [2009.31, 9], [2009.34, 0],
  [2009.86, 3], [2009.87, 0], [2009.97, 0], [2010.02, 9], [2010.07, 23], [2010.13, 36], [2010.19, 31], [2010.23, 8], [2010.25, 0], [2010.32, 10], [2010.33, 0], [2010.64, 0],
];
const obsAuto: P = [];
const obsMan: P = [
  [2004.93, 37], [2005.05, 87], [2005.12, 98], [2005.2, 105],
  [2005.96, 15], [2006.02, 30], [2006.1, 51], [2006.19, 94], [2006.27, 52],
  [2006.95, 48], [2007.05, 67], [2007.21, 95], [2007.3, 67],
  [2007.9, 30], [2007.99, 50], [2008.06, 76], [2008.12, 72], [2008.18, 72], [2008.25, 94], [2008.31, 68],
  [2009.32, 34], [2009.97, 5], [2010.09, 22],
];

// ---------------- (j) oas ----------------
const oasYears = [2005, 2006, 2007, 2008, 2009, 2010];
const oasGlass: P = [
  [2004.57, 0], [2004.67, 0], [2004.68, 2], [2004.69, 0], [2004.77, 0], [2004.79, 20], [2004.84, 15], [2004.87, 18], [2004.91, 30], [2004.95, 40], [2004.98, 60], [2005.03, 80], [2005.08, 95], [2005.12, 100], [2005.17, 100], [2005.2, 95], [2005.23, 110], [2005.25, 0],
  [2005.79, 0], [2005.82, 10], [2005.85, 0], [2005.88, 20], [2005.93, 30], [2005.98, 33], [2006.02, 35], [2006.07, 40], [2006.12, 55], [2006.16, 70], [2006.19, 78], [2006.23, 65], [2006.26, 0], [2006.34, 5], [2006.35, 0],
  [2006.83, 0], [2006.86, 40], [2006.89, 60], [2006.95, 80], [2006.99, 85], [2007.05, 95], [2007.11, 105], [2007.18, 112], [2007.23, 108], [2007.25, 95], [2007.28, 0], [2007.38, 8], [2007.39, 0],
  [2007.82, 0], [2007.87, 50], [2007.92, 75], [2007.96, 90], [2008.03, 100], [2008.11, 108], [2008.18, 112], [2008.25, 110], [2008.3, 100], [2008.32, 30], [2008.34, 0],
  [2008.92, 0], [2008.95, 5], [2008.98, 20], [2009.03, 40], [2009.1, 45], [2009.17, 50], [2009.23, 65], [2009.26, 70], [2009.3, 60], [2009.32, 0], [2009.45, 8], [2009.46, 0],
  [2009.86, 8], [2009.88, 3], [2009.93, 5], [2010.02, 15], [2010.1, 28], [2010.17, 40], [2010.22, 35], [2010.26, 10], [2010.28, 0], [2010.33, 3], [2010.34, 0], [2010.65, 0],
];
const oasCm: P = [
  [2004.57, 0], [2004.67, 0], [2004.68, 2], [2004.69, 0], [2004.77, 0], [2004.79, 15], [2004.84, 5], [2004.87, 10], [2004.91, 20], [2004.95, 30], [2004.98, 40], [2005.03, 55], [2005.08, 70], [2005.12, 75], [2005.17, 70], [2005.2, 60], [2005.23, 55], [2005.25, 0],
  [2005.79, 0], [2005.82, 5], [2005.85, 0], [2005.88, 15], [2005.93, 25], [2005.98, 28], [2006.02, 30], [2006.07, 35], [2006.12, 50], [2006.16, 62], [2006.19, 70], [2006.23, 58], [2006.26, 0], [2006.34, 3], [2006.35, 0],
  [2006.83, 0], [2006.86, 35], [2006.89, 55], [2006.95, 75], [2006.99, 80], [2007.05, 90], [2007.11, 100], [2007.18, 108], [2007.23, 105], [2007.25, 90], [2007.28, 0], [2007.38, 5], [2007.39, 0],
  [2007.82, 0], [2007.87, 45], [2007.92, 70], [2007.96, 85], [2008.03, 95], [2008.11, 100], [2008.18, 105], [2008.25, 100], [2008.3, 95], [2008.32, 25], [2008.34, 0],
  [2008.92, 0], [2008.95, 3], [2008.98, 15], [2009.03, 35], [2009.1, 42], [2009.17, 48], [2009.23, 60], [2009.26, 65], [2009.3, 55], [2009.32, 0], [2009.45, 5], [2009.46, 0],
  [2009.86, 8], [2009.88, 3], [2009.93, 5], [2010.02, 12], [2010.1, 22], [2010.17, 33], [2010.22, 30], [2010.26, 8], [2010.28, 0], [2010.33, 3], [2010.34, 0], [2010.65, 0],
];
const oasAuto: P = [];
const oasMan: P = [
  [2004.95, 32], [2005.12, 90], [2005.17, 90], [2005.2, 89],
  [2005.93, 25], [2006.02, 36], [2006.1, 53], [2006.16, 104], [2006.19, 92], [2006.26, 54],
  [2006.94, 85], [2007.03, 84], [2007.13, 91], [2007.21, 104], [2007.25, 96], [2007.3, 51],
  [2007.95, 64], [2008.03, 84], [2008.13, 93], [2008.22, 103], [2008.3, 57],
  [2009.03, 38], [2009.15, 62], [2009.97, 13],
];

// ---------------- panel definitions ----------------
interface PanelDef {
  label: string; name: string;
  glass: P; cm: P; man: P; auto: P;
  xMin: number; xMax: number; years: number[];
  yMin: number; yMax: number; yTicks: number[];
  legend?: boolean;
}

const PANELS: PanelDef[] = [
  { label: "(a)", name: "rme", glass: rmeGlass, cm: rmeCm, man: rmeMan, auto: rmeAuto, xMin: 2002.51, xMax: 2008.63, years: rmeYears, yMin: -50, yMax: 925, yTicks: rmeTicks, legend: true },
  { label: "(b)", name: "swa", glass: swaGlass, cm: swaCm, man: swaMan, auto: swaAuto, xMin: 2009.6, xMax: 2015.52, years: swaYears, yMin: -52, yMax: 1030, yTicks: swaTicks },
  { label: "(c)", name: "wfj", glass: wfjGlass, cm: wfjCm, man: wfjMan, auto: wfjAuto, xMin: 2010.59, xMax: 2016.62, years: wfjYears, yMin: -70, yMax: 1420, yTicks: wfjTicks },
  { label: "(d)", name: "sap", glass: sapGlass, cm: sapCm, man: sapMan, auto: sapAuto, xMin: 2009.62, xMax: 2015.51, years: sapYears, yMin: -17, yMax: 362, yTicks: sapTicks },
  { label: "(e)", name: "sod", glass: sodGlass, cm: sodCm, man: sodMan, auto: sodAuto, xMin: 2008.57, xMax: 2014.62, years: sodYears, yMin: -12.5, yMax: 257, yTicks: sodTicks },
  { label: "(f)", name: "cdp", glass: cdpGlass, cm: cdpCm, man: cdpMan, auto: cdpAuto, xMin: 2008.58, xMax: 2014.66, years: cdpYears, yMin: -45, yMax: 945, yTicks: cdpTicks },
  { label: "(g)", name: "snb", glass: snbGlass, cm: snbCm, man: snbMan, auto: snbAuto, xMin: 2009.54, xMax: 2015.63, years: snbYears, yMin: -48, yMax: 1008, yTicks: snbTicks },
  { label: "(h)", name: "ojp", glass: ojpGlass, cm: ojpCm, man: ojpMan, auto: ojpAuto, xMin: 2004.57, xMax: 2010.64, years: ojpYears, yMin: -5.3, yMax: 111.3, yTicks: smallTicks },
  { label: "(i)", name: "obs", glass: obsGlass, cm: obsCm, man: obsMan, auto: obsAuto, xMin: 2004.56, xMax: 2010.63, years: obsYears, yMin: -5.2, yMax: 109.5, yTicks: smallTicks },
  { label: "(j)", name: "oas", glass: oasGlass, cm: oasCm, man: oasMan, auto: oasAuto, xMin: 2004.57, xMax: 2010.64, years: oasYears, yMin: -5.7, yMax: 119.7, yTicks: smallTicks },
];

const ROW_TOPS = [0, 125, 250, 376, 501];
const toXY = (a: P) => a.map(([x, y]) => ({ x, y }));

const framePlugin = {
  id: "frame",
  beforeDatasetsDraw(chart: any) {
    const { ctx, chartArea: a } = chart;
    ctx.save();
    ctx.strokeStyle = "#b4b4b4";
    ctx.lineWidth = 1;
    ctx.strokeRect(Math.round(a.left) + 0.5, Math.round(a.top) + 0.5, Math.round(a.right - a.left) - 1, Math.round(a.bottom - a.top) - 1);
    ctx.restore();
  },
};

const legendPlugin = {
  id: "insideLegend",
  afterDraw(chart: any) {
    const { ctx, chartArea: a } = chart;
    const x0 = a.left + 0.5;
    const y0 = a.top - 0.5;
    ctx.save();
    ctx.fillStyle = "rgba(255,255,255,0.85)";
    ctx.fillRect(x0, y0, 49, 32);
    ctx.strokeStyle = "#5a5aff";
    ctx.lineWidth = 1;
    ctx.strokeRect(x0, y0, 49, 32);
    const rows = [y0 + 3.5, y0 + 10.8, y0 + 19.4, y0 + 27];
    // LM-GLASS
    ctx.strokeStyle = BLUE;
    ctx.lineWidth = 1.5;
    ctx.beginPath(); ctx.moveTo(x0 + 2, rows[0]); ctx.lineTo(x0 + 14, rows[0]); ctx.stroke();
    // LM-CM
    ctx.strokeStyle = ORANGE;
    ctx.lineWidth = 1;
    ctx.setLineDash([2, 1.3]);
    ctx.beginPath(); ctx.moveTo(x0 + 2, rows[1]); ctx.lineTo(x0 + 14, rows[1]); ctx.stroke();
    ctx.setLineDash([]);
    ctx.fillStyle = "#000";
    ctx.beginPath(); ctx.arc(x0 + 8, rows[2], 1.3, 0, Math.PI * 2); ctx.fill();
    ctx.beginPath(); ctx.arc(x0 + 8, rows[3], 0.8, 0, Math.PI * 2); ctx.fill();
    ctx.fillStyle = TXT;
    ctx.font = `5px ${FONT}`;
    ctx.textBaseline = "middle";
    ctx.textAlign = "left";
    const names = ["LM-GLASS", "LM-CM", "Obs. man.", "Obs. auto."];
    names.forEach((n, i) => ctx.fillText(n, x0 + 18, rows[i]));
    ctx.restore();
  },
};

function Panel({ def, left, top }: { def: PanelDef; left: number; top: number }) {
  const ref = useRef<HTMLCanvasElement>(null);
  useEffect(() => {
    const canvas = ref.current;
    if (!canvas) return;
    const labelPlugin = {
      id: "panelLabel",
      afterDraw(chart: any) {
        const ctx = chart.ctx;
        ctx.save();
        ctx.fillStyle = "#000";
        ctx.font = `bold 8.5px ${FONT}`;
        ctx.textBaseline = "alphabetic";
        ctx.textAlign = "left";
        ctx.fillText(def.label, 7, 12.5);
        ctx.restore();
      },
    };
    const chart = new Chart(canvas, {
      type: "line",
      data: {
        datasets: [
          { label: "Obs. man.", data: toXY(def.man), showLine: false, pointRadius: 1.25, pointBackgroundColor: "#000", pointBorderWidth: 0, borderColor: "#000", order: 0 } as any,
          { label: "Obs. auto.", data: toXY(def.auto), showLine: false, pointRadius: 0.85, pointBackgroundColor: "#000", pointBorderWidth: 0, borderColor: "#000", order: 1 } as any,
          { label: "LM-CM", data: toXY(def.cm), borderColor: ORANGE, borderWidth: 1, borderDash: [2.5, 1.5], pointRadius: 0, tension: 0, fill: false, order: 2 } as any,
          { label: "LM-GLASS", data: toXY(def.glass), borderColor: BLUE, borderWidth: 1, pointRadius: 0, tension: 0, fill: false, order: 3 } as any,
        ],
      },
      options: {
        responsive: false,
        animation: false,
        devicePixelRatio: 1,
        events: [],
        layout: { padding: { left: 0, right: 4, top: 0, bottom: 0 } },
        plugins: {
          legend: { display: false },
          tooltip: { enabled: false },
          title: {
            display: true,
            text: `station = ${def.name}`,
            color: TXT,
            font: { size: 9, family: FONT, weight: "normal" },
            padding: { top: 11, bottom: 1.2 },
          },
        },
        scales: {
          x: {
            type: "linear",
            min: def.xMin,
            max: def.xMax,
            afterBuildTicks: (s: any) => { s.ticks = def.years.map((v) => ({ value: v })); },
            afterFit: (s: any) => { s.height = 21; },
            ticks: { font: { size: 4.8, family: FONT }, color: TXT, padding: 5, maxRotation: 0, autoSkip: false, callback: (v: any) => String(v) },
            grid: { color: "#dedede", lineWidth: 0.8, drawTicks: false },
            border: { display: false },
            title: { display: true, text: "Time", color: TXT, font: { size: 7.5, family: FONT }, padding: { top: 0, bottom: 2.5 } },
          },
          y: {
            type: "linear",
            min: def.yMin,
            max: def.yMax,
            afterBuildTicks: (s: any) => { s.ticks = def.yTicks.map((v) => ({ value: v })); },
            afterFit: (s: any) => { s.width = 32; },
            ticks: { font: { size: 4.8, family: FONT }, color: TXT, padding: 4, autoSkip: false, callback: (v: any) => String(v) },
            grid: { color: "#dedede", lineWidth: 0.8, drawTicks: false },
            border: { display: false },
            title: { display: true, text: "Snow SWE [kg m⁻²]", color: TXT, font: { size: 7.5, family: FONT }, padding: { top: 6, bottom: 0 } },
          },
        },
      } as any,
      plugins: def.legend ? [framePlugin, labelPlugin, legendPlugin] : [framePlugin, labelPlugin],
    });
    return () => chart.destroy();
  }, [def]);
  return (
    <canvas
      ref={ref}
      width={250}
      height={125}
      style={{ position: "absolute", left, top, width: 250, height: 125, display: "block" }}
    />
  );
}

export default function App() {
  return (
    <div style={{ position: "absolute", left: 0, top: 0, width: 500, height: 627, background: "#fff", overflow: "hidden" }}>
      {PANELS.map((p, i) => (
        <Panel key={p.name} def={p} left={(i % 2) * 250} top={ROW_TOPS[Math.floor(i / 2)]} />
      ))}
    </div>
  );
}
